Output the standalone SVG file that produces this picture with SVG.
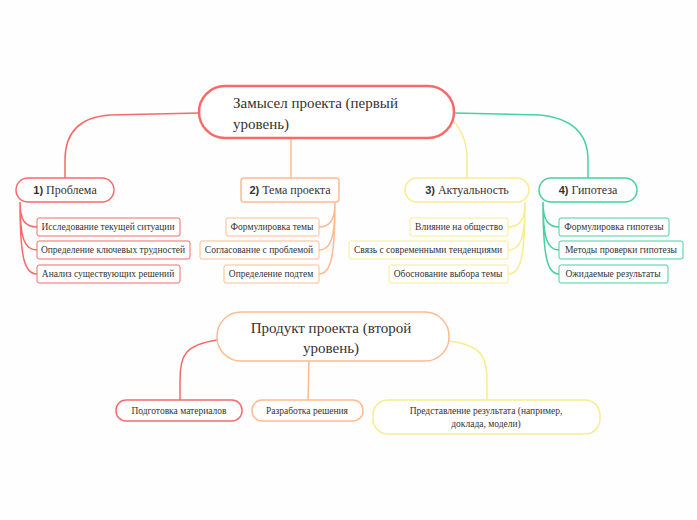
<svg xmlns="http://www.w3.org/2000/svg" width="697" height="520" viewBox="0 0 697 520">
<style>
text{font-family:"Liberation Serif","DejaVu Serif",serif;fill:#333}
.big{font-size:15px}
.n{font-size:12px}
.c{font-size:9.5px}
.num{font-family:"Liberation Sans","DejaVu Sans",sans-serif;font-weight:bold}
.r{stroke:#f86a6a}.o{stroke:#ffbb90}.y{stroke:#f8ec90}.g{stroke:#45d2a0}
rect{fill:#fff}
.con path{fill:none;stroke-width:1.5}
</style>
<rect x="0" y="0" width="697" height="520" fill="#fefefe" style="fill:#fefefe"/>
<g class="con">
<path class="r" d="M199,113 L110,115 Q65,118 65,160 L65,178"/>
<path class="o" d="M291,138 L291,178"/>
<path class="y" d="M453,121 Q467,135 467,160 L467,178"/>
<path class="g" d="M454,113 L540,115 Q588,120 588,160 L588,178"/>
<path class="r" d="M20,202 C20,220 25,227 37,227 M20,202 C20,240 25,250 37,250 M20,202 C20,260 25,274 37,274"/>
<path class="o" d="M335,202 C335,220 330,227 319,227 M335,202 C335,240 330,250 319,250 M335,202 C335,260 330,274 319,274"/>
<path class="y" d="M525,202 C525,220 520,227 508,227 M525,202 C525,240 520,250 508,250 M525,202 C525,260 520,274 508,274"/>
<path class="g" d="M543,202 C543,220 548,227 559,227 M543,202 C543,240 548,250 559,250 M543,202 C543,260 548,274 559,274"/>
<path class="r" d="M217,340 C185,345 180,355 180,380 L180,400"/>
<path class="o" d="M309,361 L308,400"/>
<path class="y" d="M449,341 C480,345 487,355 487,380 L487,400"/>
</g>
<g id="root1"><rect class="r" x="199" y="86" width="255" height="52" rx="26" stroke-width="2.5"/><text class="big" x="233" y="108">Замысел проекта (первый</text><text class="big" x="233" y="129">уровень)</text></g>
<g id="n1"><rect class="r" x="16" y="178" width="98" height="24" rx="12" stroke-width="1.5"/><text class="n" x="65" y="194" text-anchor="middle"><tspan class="num" font-size="11">1)</tspan> Проблема</text></g>
<g id="n2"><rect class="o" x="241" y="178" width="98" height="24" rx="3" stroke-width="1.5"/><text class="n" x="290" y="194" text-anchor="middle"><tspan class="num" font-size="11">2)</tspan> Тема проекта</text></g>
<g id="n3"><rect class="y" x="405" y="178" width="124" height="24" rx="12" stroke-width="1.5"/><text class="n" x="467" y="194" text-anchor="middle"><tspan class="num" font-size="11">3)</tspan> Актуальность</text></g>
<g id="n4"><rect class="g" x="539" y="178" width="98" height="24" rx="12" stroke-width="1.5"/><text class="n" x="588" y="194" text-anchor="middle"><tspan class="num" font-size="11">4)</tspan> Гипотеза</text></g>
<g id="c1a"><rect class="r" x="37" y="218" width="143" height="18" rx="2"/><text class="c" x="108" y="230" text-anchor="middle">Исследование текущей ситуации</text></g>
<g id="c1b"><rect class="r" x="37" y="241" width="153" height="18" rx="2"/><text class="c" x="113" y="253" text-anchor="middle">Определение ключевых трудностей</text></g>
<g id="c1c"><rect class="r" x="37" y="265" width="143" height="18" rx="2"/><text class="c" x="108" y="277" text-anchor="middle">Анализ существующих решений</text></g>
<g id="c2a"><rect class="o" x="226" y="218" width="93" height="18" rx="2"/><text class="c" x="272" y="230" text-anchor="middle">Формулировка темы</text></g>
<g id="c2b"><rect class="o" x="200" y="241" width="119" height="18" rx="2"/><text class="c" x="259" y="253" text-anchor="middle">Согласование с проблемой</text></g>
<g id="c2c"><rect class="o" x="224" y="265" width="95" height="18" rx="2"/><text class="c" x="271" y="277" text-anchor="middle">Определение подтем</text></g>
<g id="c3a"><rect class="y" x="410" y="218" width="98" height="18" rx="2"/><text class="c" x="459" y="230" text-anchor="middle">Влияние на общество</text></g>
<g id="c3b"><rect class="y" x="349" y="241" width="159" height="18" rx="2"/><text class="c" x="428" y="253" text-anchor="middle">Связь с современными тенденциями</text></g>
<g id="c3c"><rect class="y" x="389" y="265" width="119" height="18" rx="2"/><text class="c" x="448" y="277" text-anchor="middle">Обоснование выбора темы</text></g>
<g id="c4a"><rect class="g" x="559" y="218" width="110" height="18" rx="2"/><text class="c" x="614" y="230" text-anchor="middle">Формулировка гипотезы</text></g>
<g id="c4b"><rect class="g" x="559" y="241" width="124" height="18" rx="2"/><text class="c" x="621" y="253" text-anchor="middle">Методы проверки гипотезы</text></g>
<g id="c4c"><rect class="g" x="559" y="265" width="109" height="18" rx="2"/><text class="c" x="613" y="277" text-anchor="middle">Ожидаемые результаты</text></g>
<g id="root2"><rect class="o" x="217" y="312" width="232" height="49" rx="24" stroke-width="1.5"/><text class="big" x="331" y="333" text-anchor="middle">Продукт проекта (второй</text><text class="big" x="331" y="353" text-anchor="middle">уровень)</text></g>
<g id="p1"><rect class="r" x="116" y="400" width="126" height="21" rx="10" stroke-width="1.5"/><text class="c" x="179" y="414" text-anchor="middle">Подготовка материалов</text></g>
<g id="p2"><rect class="o" x="252" y="400" width="111" height="21" rx="10" stroke-width="1.5"/><text class="c" x="307" y="414" text-anchor="middle">Разработка решения</text></g>
<g id="p3"><rect class="y" x="373" y="400" width="227" height="34" rx="15" stroke-width="1.5"/><text class="c" x="486" y="414" text-anchor="middle">Представление результата (например,</text><text class="c" x="486" y="427" text-anchor="middle">доклада, модели)</text></g>
</svg>
